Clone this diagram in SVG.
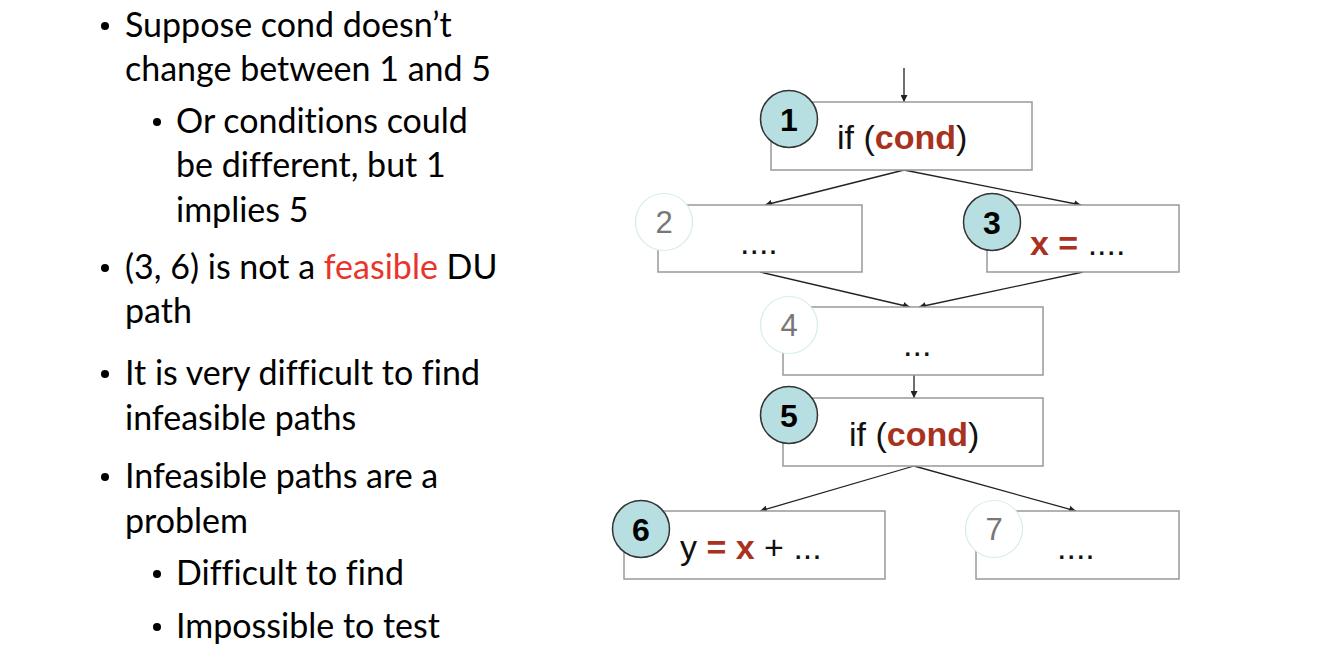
<svg xmlns="http://www.w3.org/2000/svg" width="1328" height="662" viewBox="0 0 1328 662">
<defs>
<style>
.box{fill:#fff;stroke:#999;stroke-width:1.5}
.cd{fill:#b7dee0;stroke:#333;stroke-width:1.5}
.cl{fill:#fff;stroke:#d6ecec;stroke-width:1.2}
.nd{font-family:"Liberation Sans",Arial,sans-serif;font-size:32px;font-weight:bold;fill:#000;text-anchor:middle}
.nl{font-family:"Liberation Sans",Arial,sans-serif;font-size:31px;fill:#777;text-anchor:middle}
.code{font-family:"Liberation Sans",Arial,sans-serif;font-size:34px;fill:#111}
.r{fill:#a8321e;font-weight:bold}
.conn{stroke:#222;stroke-width:1.3;fill:none;marker-end:url(#ah)}
.bt{font-family:Lato,"Noto Sans",sans-serif;font-size:34px;fill:#000;font-variant-ligatures:none;font-feature-settings:"liga" 0}
.bu{fill:#000}
.feas{fill:#e8352b}
</style>
<marker id="ah" viewBox="0 0 10 10" refX="10" refY="5" markerWidth="7" markerHeight="7" markerUnits="userSpaceOnUse" orient="auto">
<path d="M0,0 L10,5 L0,10 z" fill="#222"/>
</marker>
</defs>
<rect width="1328" height="662" fill="#fff"/>

<g id="bullets">
<circle class="bu" cx="105" cy="26" r="4"/>
<text class="bt" x="125" y="37">Suppose cond doesn’t</text>
<text class="bt" x="125" y="81">change between 1 and 5</text>
<circle class="bu" cx="157" cy="122" r="4"/>
<text class="bt" x="176" y="133">Or conditions could</text>
<text class="bt" x="176" y="177">be different, but 1</text>
<text class="bt" x="176" y="222">implies 5</text>
<circle class="bu" cx="105" cy="268" r="4"/>
<text class="bt" x="125" y="279">(3, 6) is not a <tspan class="feas">feasible</tspan> DU</text>
<text class="bt" x="125" y="323">path</text>
<circle class="bu" cx="105" cy="374" r="4"/>
<text class="bt" x="125" y="385">It is very difficult to find</text>
<text class="bt" x="125" y="430">infeasible paths</text>
<circle class="bu" cx="105" cy="477" r="4"/>
<text class="bt" x="125" y="488">Infeasible paths are a</text>
<text class="bt" x="125" y="533">problem</text>
<circle class="bu" cx="157" cy="574" r="4"/>
<text class="bt" x="176" y="585">Difficult to find</text>
<circle class="bu" cx="157" cy="627" r="4"/>
<text class="bt" x="176" y="638">Impossible to test</text>
</g>

<g id="connectors">
<line class="conn" x1="904" y1="68" x2="904" y2="102"/>
<line class="conn" x1="904" y1="170" x2="765" y2="205"/>
<line class="conn" x1="904" y1="170" x2="1081" y2="205"/>
<line class="conn" x1="760" y1="272" x2="910" y2="307"/>
<line class="conn" x1="1083" y1="272" x2="919" y2="307"/>
<line class="conn" x1="914" y1="375" x2="914" y2="398"/>
<line class="conn" x1="914" y1="466" x2="760" y2="511"/>
<line class="conn" x1="914" y1="466" x2="1076" y2="511"/>
</g>

<g id="node1">
<rect class="box" x="771" y="102" width="261" height="68"/>
<circle class="cd" cx="789" cy="119" r="28.5"/>
<text class="nd" x="789" y="131">1</text>
<text class="code" x="837" y="149">if (<tspan class="r">cond</tspan>)</text>
</g>

<g id="node2">
<rect class="box" x="658" y="205" width="204" height="67"/>
<circle class="cl" cx="664" cy="222" r="28.5"/>
<text class="nl" x="664" y="233">2</text>
<text class="code" x="740" y="254">....</text>
</g>

<g id="node3">
<rect class="box" x="987" y="205" width="192" height="67"/>
<circle class="cd" cx="992" cy="222" r="28.5"/>
<text class="nd" x="992" y="234">3</text>
<text class="code" x="1030" y="255"><tspan class="r">x =</tspan> ....</text>
</g>

<g id="node4">
<rect class="box" x="783" y="307" width="260" height="68"/>
<circle class="cl" cx="789" cy="325" r="28.5"/>
<text class="nl" x="789" y="336">4</text>
<text class="code" x="903" y="356">...</text>
</g>

<g id="node5">
<rect class="box" x="783" y="398" width="260" height="68"/>
<circle class="cd" cx="789" cy="415" r="28.5"/>
<text class="nd" x="789" y="427">5</text>
<text class="code" x="849" y="446">if (<tspan class="r">cond</tspan>)</text>
</g>

<g id="node6">
<rect class="box" x="624" y="511" width="261" height="68"/>
<circle class="cd" cx="641" cy="529" r="28.5"/>
<text class="nd" x="641" y="541">6</text>
<text class="code" x="680" y="559">y <tspan class="r">= x</tspan> + ...</text>
</g>

<g id="node7">
<rect class="box" x="976" y="511" width="203" height="68"/>
<circle class="cl" cx="994" cy="529" r="28.5"/>
<text class="nl" x="994" y="540">7</text>
<text class="code" x="1057" y="559">....</text>
</g>
</svg>
